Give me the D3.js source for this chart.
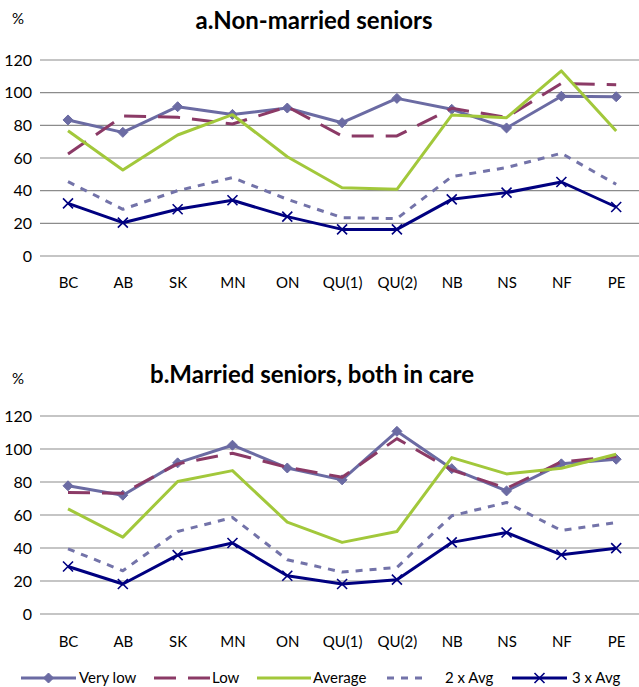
<!DOCTYPE html>
<html>
<head>
<meta charset="utf-8">
<script src="https://cdn.jsdelivr.net/npm/d3@7/dist/d3.min.js"></script>
<style>
  html, body { margin: 0; padding: 0; background: #fff; }
  svg { display: block; font-family: Lato, "Liberation Sans", sans-serif; }
</style>
</head>
<body>
<svg id="chart" width="639" height="687"></svg>
<script>
// ---- data ----
const categories = ["BC","AB","SK","MN","ON","QU(1)","QU(2)","NB","NS","NF","PE"];
const seriesNames = ["Very low","Low","Average","2 x Avg","3 x Avg"];
const yTicks = [0,20,40,60,80,100,120];

// a. Non-married seniors
const aVeryLow = [83.3,75.7,91.4,86.7,90.6,81.6,96.5,89.8,78.4,97.8,97.5];
const aLow     = [62.4,85.7,84.9,80.8,91.4,73.5,73.5,90.4,84.9,105.7,104.9];
const aAverage = [76.7,52.7,74.1,86.5,60.8,41.8,40.8,86.3,84.7,113.3,76.5];
const a2xAvg   = [45.5,28.6,40.0,48.0,34.7,23.5,22.9,48.6,54.1,62.9,43.9];
const a3xAvg   = [32.2,20.4,28.6,34.1,24.1,16.3,16.3,34.7,38.8,45.3,30.0];

// b. Married seniors, both in care
const bVeryLow = [77.7,72.0,91.6,102.3,88.5,81.3,110.7,88.1,74.6,91.0,93.8];
const bLow     = [73.6,73.2,91.0,97.4,88.9,82.9,106.3,87.3,76.2,92.2,95.4];
const bAverage = [63.7,46.6,80.3,86.9,55.7,43.4,50.0,94.8,84.9,88.3,96.8];
const b2xAvg   = [39.5,26.2,50.0,58.5,32.9,25.4,28.2,59.5,67.6,50.6,55.5];
const b3xAvg   = [28.8,18.2,35.7,43.0,23.2,18.2,20.8,43.4,49.4,35.9,39.9];

// ---- styles ----
const styles = {
  "Very low": {color:"#6B6BA3", dash:null, marker:"diamond"},
  "Low":      {color:"#8B3A66", dash:"22,12", marker:null},
  "Average":  {color:"#A2C83B", dash:null, marker:null},
  "2 x Avg":  {color:"#7373A9", dash:"7,7", marker:null},
  "3 x Avg":  {color:"#000080", dash:null, marker:"x"}
};

const svg = d3.select("#chart");
const x = d3.scalePoint().domain(categories).range([40.6, 643.6]).padding(0.5);

function drawMarker(g, type, cx, cy, color) {
  if (type === "diamond") {
    g.append("path")
      .attr("d", `M${cx},${cy-5}L${cx+5},${cy}L${cx},${cy+5}L${cx-5},${cy}Z`)
      .attr("fill", color).attr("stroke", color).attr("stroke-width", 1);
  } else if (type === "x") {
    g.append("path")
      .attr("d", `M${cx-5},${cy-5}L${cx+5},${cy+5}M${cx-5},${cy+5}L${cx+5},${cy-5}`)
      .attr("fill", "none").attr("stroke", color).attr("stroke-width", 1.6);
  }
}

function panel(cfg) {
  const y = d3.scaleLinear().domain([0,120]).range([cfg.y0, cfg.y120]);
  const g = svg.append("g");

  // title and unit
  g.append("text").attr("x", cfg.titleX).attr("y", cfg.titleY)
    .attr("text-anchor","middle").attr("font-weight","bold")
    .attr("font-size", 24).attr("fill","#000").text(cfg.title);
  g.append("text").attr("x", 12).attr("y", cfg.pctY)
    .attr("font-size", 15).attr("fill","#000").text("%");

  // gridlines
  g.selectAll(".grid").data(yTicks).enter().append("line")
    .attr("x1", 40).attr("x2", 639)
    .attr("y1", d => y(d)).attr("y2", d => y(d))
    .attr("stroke", "#8C8C8C").attr("stroke-width", 1.2);

  // y tick labels
  const yAxis = d3.axisLeft(y).tickValues(yTicks).tickSize(0).tickPadding(0);
  const ya = g.append("g").attr("transform", "translate(32,0)").call(yAxis);
  ya.select(".domain").remove();
  ya.selectAll("text").attr("font-size", 16).attr("font-family","Lato, sans-serif").attr("fill","#000");

  // x labels
  const xAxis = d3.axisBottom(x).tickSize(0).tickPadding(0);
  const xa = g.append("g").attr("transform", `translate(0,${cfg.xLabelY})`).call(xAxis);
  xa.select(".domain").remove();
  xa.selectAll("text").attr("font-size", 15).attr("font-family","Lato, sans-serif").attr("fill","#000").attr("dy","0.35em");

  const line = d3.line().x((d,i) => x(categories[i])).y(d => y(d));
  cfg.series.forEach((vals, si) => {
    const name = seriesNames[si];
    const st = styles[name];
    g.append("path").datum(vals)
      .attr("d", line).attr("fill","none")
      .attr("stroke", st.color).attr("stroke-width", 3)
      .attr("stroke-linejoin","round")
      .attr("stroke-dasharray", st.dash);
    if (st.marker) {
      vals.forEach((v,i) => drawMarker(g, st.marker, x(categories[i]), y(v), st.color));
    }
  });
}

panel({title:"a.Non-married seniors", titleX:314, titleY:29, pctY:24,
       y0:256, y120:60, xLabelY:283,
       series:[aVeryLow,aLow,aAverage,a2xAvg,a3xAvg]});
panel({title:"b.Married seniors, both in care", titleX:312, titleY:383, pctY:384,
       y0:614, y120:416, xLabelY:642,
       series:[bVeryLow,bLow,bAverage,b2xAvg,b3xAvg]});

// legend
const legendItems = [
  {name:"Very low", x1:21, x2:76, tx:79},
  {name:"Low", x1:154, x2:212, tx:212},
  {name:"Average", x1:257, x2:311, tx:313},
  {name:"2 x Avg", x1:387, x2:428, tx:445},
  {name:"3 x Avg", x1:512, x2:567, tx:572}
];
const lg = svg.append("g");
const ly = 678;
legendItems.forEach(it => {
  const st = styles[it.name];
  lg.append("line").attr("x1", it.x1).attr("x2", it.x2).attr("y1", ly).attr("y2", ly)
    .attr("stroke", st.color).attr("stroke-width", 3)
    .attr("stroke-dasharray", st.dash);
  if (st.marker) drawMarker(lg, st.marker, (it.x1+it.x2)/2, ly, st.color);
  lg.append("text").attr("x", it.tx).attr("y", ly).attr("dy","0.35em")
    .attr("font-size", 15).attr("fill","#000").text(it.name);
});
</script>
</body>
</html>
